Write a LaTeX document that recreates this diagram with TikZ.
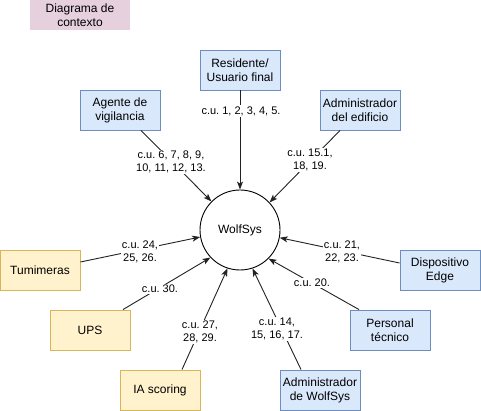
\documentclass[tikz,border=0pt]{standalone}
\usepackage{fontspec}
\setmainfont{Liberation Sans}
\usetikzlibrary{arrows.meta}
\frenchspacing
\definecolor{bfill}{HTML}{DAE8FC}
\definecolor{bdraw}{HTML}{6C8EBF}
\definecolor{yfill}{HTML}{FFF2CC}
\definecolor{ydraw}{HTML}{D6B656}
\definecolor{pfill}{HTML}{E6D0DE}
\definecolor{lncol}{HTML}{222222}
\tikzset{
  box/.style={rectangle, minimum width=80pt, minimum height=40pt, inner sep=0pt, align=center, line width=0.9pt, font=\fontsize{12}{14}\selectfont\frenchspacing},
  bluebox/.style={box, fill=bfill, draw=bdraw},
  yelbox/.style={box, fill=yfill, draw=ydraw},
  sysnode/.style={circle, draw=black, line width=0.9pt, minimum size=80pt, inner sep=0pt, font=\fontsize{12}{14}\selectfont},
  titlebox/.style={rectangle, fill=pfill, minimum width=100pt, minimum height=30pt, inner sep=0pt, align=center, font=\fontsize{12}{14}\selectfont},
  arr/.style={draw=lncol, line width=0.9pt, -{Stealth[length=8pt,width=6pt,inset=2pt]}},
  lbl/.style={fill=white, inner sep=1pt, align=center, font=\fontsize{11}{13}\selectfont\frenchspacing}
}
\begin{document}
\begin{tikzpicture}[x=1pt,y=-1pt]
\useasboundingbox (0,0) rectangle (481,411);
\node[titlebox] (title) at (80,15) {Diagrama de\\contexto};
\node[bluebox] (res) at (240,70) {Residente/\\Usuario final};
\node[bluebox] (agente) at (120,110) {Agente de\\vigilancia};
\node[bluebox] (admed) at (360,110) {Administrador\\del edificio};
\node[sysnode] (sys) at (240,230) {WolfSys};
\node[yelbox] (tum) at (40,270) {Tumimeras};
\node[yelbox] (ups) at (90,330) {UPS};
\node[yelbox] (ia) at (160,390) {IA scoring};
\node[bluebox] (adws) at (320,390) {Administrador\\de WolfSys};
\node[bluebox] (pers) at (390,330) {Personal\\técnico};
\node[bluebox] (edge) at (440,270) {Dispositivo\\Edge};

\draw[arr] (res.south) -- (sys.90);
\draw[arr] ([xshift=21pt]agente.south) -- (sys.135);
\draw[arr] ([xshift=-20pt]admed.south) -- (sys.43);
\draw[arr] ([yshift=8pt]tum.east) -- (sys.190);
\draw[arr] ([xshift=33pt]ups.north) -- (sys.223);
\draw[arr] ([xshift=22pt]ia.north) -- (sys.252);
\draw[arr] ([xshift=-19pt]adws.north) -- (sys.288);
\draw[arr] ([xshift=-31pt]pers.north) -- (sys.315);
\draw[arr] ([yshift=7pt]edge.west) -- (sys.349);

\node[lbl] (l1) at (241,111) {c.u. 1, 2, 3, 4, 5.};
\node[lbl] (l2) at (171,162) {c.u. 6, 7, 8, 9,\\10, 11, 12, 13.};
\node[lbl] (l3) at (310,160) {c.u. 15.1,\\18, 19.};
\node[lbl] (l4) at (140,252) {c.u. 24,\\25, 26.};
\node[lbl] (l5) at (160,289) {c.u. 30.};
\node[lbl] (l6) at (200,332) {c.u. 27,\\28, 29.};
\node[lbl] (l7) at (277,329) {c.u. 14,\\15, 16, 17.};
\node[lbl] (l8) at (312,283) {c.u. 20.};
\node[lbl] (l9) at (342,252) {c.u. 21,\\22, 23.};
\end{tikzpicture}
\end{document}
